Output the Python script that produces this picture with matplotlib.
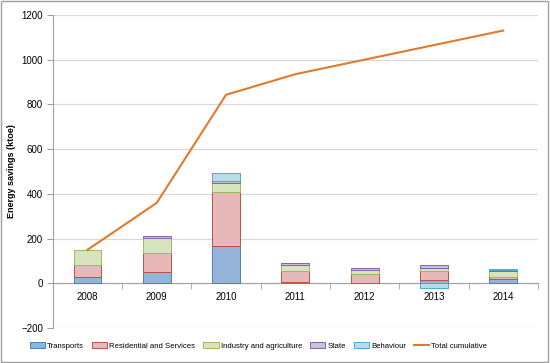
import numpy as np
import matplotlib.pyplot as plt
from matplotlib.patches import Rectangle

years = ["2008", "2009", "2010", "2011", "2012", "2013", "2014"]
transports = [30, 50, 168, 5, 2, 15, 20]
residential = [50, 87, 239, 52, 41, 40, 10]
industry = [68, 68, 42, 23, 15, 13, 25]
state = [0, 7, 7, 11, 11, 12, 3]
behaviour = [0, 0, 36, 0, 0, -20, 7]
total_cumulative = [150, 360, 843, 935, 1000, 1065, 1130]

plt.rcParams['font.family'] = ['Liberation Sans', 'DejaVu Sans']

series = [
    ("Transports", transports, '#95B3D7', '#4F81BD'),
    ("Residential and Services", residential, '#E6B9B8', '#C0504D'),
    ("Industry and agriculture", industry, '#D7E4BD', '#9BBB59'),
    ("State", state, '#CCC1DA', '#8064A2'),
    ("Behaviour", behaviour, '#B7DEE8', '#4BACC6'),
]

fig = plt.figure(figsize=(5.5, 3.63), dpi=100)
ax = fig.add_axes([0.096, 0.096, 0.882, 0.863])
fig.patches.append(Rectangle((0.002, 0.003), 0.995, 0.993, transform=fig.transFigure,
                             fill=False, edgecolor='#A0A0A0', linewidth=1))

x = np.arange(len(years))
pos = np.zeros(len(years))
neg = np.zeros(len(years))
handles = []
for name, vals, fc, ec in series:
    vals = np.array(vals, dtype=float)
    bottom = np.where(vals >= 0, pos, neg)
    keep = vals != 0
    ax.bar(x[keep], vals[keep], 0.4, bottom=bottom[keep], color=fc, edgecolor=ec,
           linewidth=0.7, zorder=3)
    handles.append(Rectangle((0, 0), 1, 1, facecolor=fc, edgecolor=ec, linewidth=0.7, label=name))
    pos += np.where(vals >= 0, vals, 0)
    neg += np.where(vals < 0, vals, 0)

line, = ax.plot(x, total_cumulative, color='#E07B2E', linewidth=1.5, label="Total cumulative", zorder=4)
handles.append(line)

ax.set_xlim(-0.5, len(years) - 0.5)
ax.set_ylim(-200, 1200)
ax.set_yticks(np.arange(-200, 1201, 200))
ax.yaxis.grid(True, color='#D9D9D9', linewidth=0.9, zorder=0)
ax.tick_params(axis='y', labelsize=7, length=4, color='#A0A0A0', pad=3)

ax.spines['bottom'].set_position(('data', 0))
ax.spines['bottom'].set_color('#A0A0A0')
ax.spines['left'].set_color('#A0A0A0')
ax.spines['top'].set_visible(False)
ax.spines['right'].set_visible(False)
ax.set_xticks(x)
ax.set_xticklabels(years)
ax.set_xticks(np.arange(-0.5, len(years), 1), minor=True)
ax.tick_params(axis='x', which='major', length=0, labelsize=7, pad=6)
ax.tick_params(axis='x', which='minor', length=4, color='#A0A0A0')

ax.set_ylabel("Energy savings (ktoe)", fontsize=6.5, fontweight='bold', labelpad=4)

fig.legend(handles=handles, loc='center', bbox_to_anchor=(0.47, 0.047), ncol=6,
           frameon=False, fontsize=5.6, handlelength=2.0, handleheight=0.7,
           columnspacing=1.0, handletextpad=0.25, borderaxespad=0, borderpad=0)

plt.savefig("out.png", dpi=100)
